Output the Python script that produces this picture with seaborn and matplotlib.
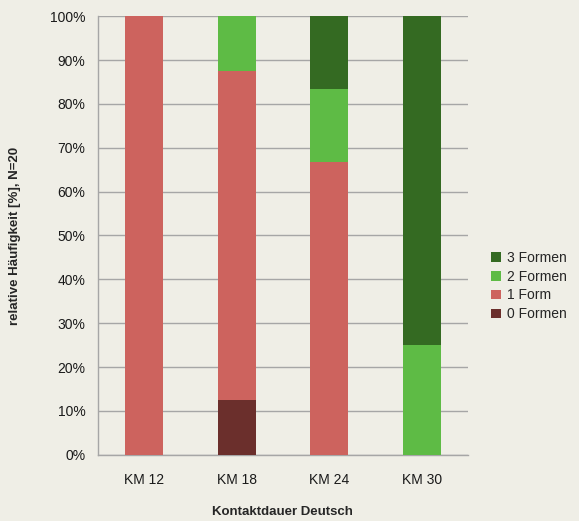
import numpy as np
import pandas as pd
import matplotlib
matplotlib.use("Agg")
import matplotlib.pyplot as plt
import seaborn as sns
from matplotlib.ticker import PercentFormatter, FixedLocator

sns.set_theme(style="white")
plt.rcParams["font.family"] = ["Liberation Sans", "DejaVu Sans"]

# ── Data ─────────────────────────────────────────────────────────────────────
categories = ["KM 12", "KM 18", "KM 24", "KM 30"]
formen_0 = [0.0, 12.5, 0.0, 0.0]
formen_1 = [100.0, 75.0, 66.7, 0.0]
formen_2 = [0.0, 12.5, 16.7, 25.0]
formen_3 = [0.0, 0.0, 16.6, 75.0]

series = [("0 Formen", formen_0, "#6B2F2C"),
          ("1 Form", formen_1, "#CD635E"),
          ("2 Formen", formen_2, "#5EBB45"),
          ("3 Formen", formen_3, "#346A22")]

bg = "#EFEEE6"
grid_col = "#A6A6A6"

fig = plt.figure(figsize=(5.79, 5.21), dpi=100, facecolor=bg)
ax = fig.add_axes([0.169, 0.127, 0.639, 0.842])
ax.set_facecolor(bg)

# ── Stacked bars ─────────────────────────────────────────────────────────────
bottom = np.zeros(len(categories))
for name, vals, color in series:
    df = pd.DataFrame({"cat": categories, "val": vals})
    sns.barplot(data=df, x="cat", y="val", color=color, bottom=bottom,
                width=0.41, saturation=1, ax=ax, label=name, zorder=3,
                linewidth=0)
    bottom = bottom + np.array(vals)

ax.set_ylim(0, 100)
ax.set_xlim(-0.5, len(categories) - 0.5)
ax.yaxis.set_major_locator(FixedLocator(np.arange(0, 101, 10)))
ax.yaxis.set_major_formatter(PercentFormatter(decimals=0))
ax.yaxis.grid(True, color=grid_col, linewidth=1.0, zorder=0)

ax.set_xticks(range(len(categories)))
ax.set_xticklabels(categories)
ax.set_xticks(np.arange(-0.5, len(categories), 1.0), minor=True)
ax.tick_params(axis="x", which="major", length=0, labelsize=10, pad=13, colors="#1A1A1A")
ax.tick_params(axis="x", which="minor", length=5, color=grid_col, width=1)
ax.tick_params(axis="y", length=5, color=grid_col, width=1, labelsize=10, pad=4,
               labelcolor="#1A1A1A")

for side in ["top", "right"]:
    ax.spines[side].set_visible(False)
for side in ["left", "bottom"]:
    ax.spines[side].set_color(grid_col)
    ax.spines[side].set_linewidth(1.0)

ax.set_xlabel("Kontaktdauer Deutsch", fontsize=9.5, fontweight="bold", labelpad=14)
ax.set_ylabel("relative Häufigkeit [%], N=20", fontsize=9.5, fontweight="bold", labelpad=21)

handles, labels = ax.get_legend_handles_labels()
leg = ax.legend(handles[::-1], labels[::-1], loc="center left",
                bbox_to_anchor=(1.03, 0.385), frameon=False, fontsize=10,
                handlelength=0.7, handleheight=0.7, handletextpad=0.4,
                labelspacing=0.35)

fig.savefig("out.png", dpi=100, facecolor=bg)
